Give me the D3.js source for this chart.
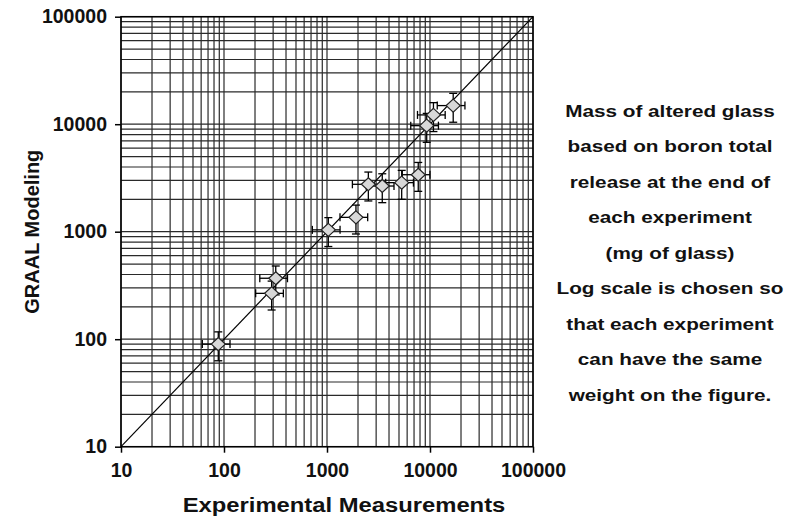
<!DOCTYPE html>
<html>
<head>
<meta charset="utf-8">
<script src="https://cdn.jsdelivr.net/npm/d3@7"></script>
<style>
  body { margin: 0; background: #fff; }
  svg { font-family: "Liberation Sans", Arial, sans-serif; font-weight: bold; }
</style>
</head>
<body>
<div id="chart"></div>
<script>
// experimental (x) vs GRAAL modelled (y) altered glass mass, mg
var experimental = [88, 290, 318, 1030, 1910, 2520, 3440, 5310, 7690, 9290, 10800, 16800];
var modeled = [90, 267, 369, 1040, 1360, 2760, 2660, 2860, 3390, 9690, 12200, 14900];
var relError = 0.3; // +/- 30% on both axes
var tickValues = [10, 100, 1000, 10000, 100000];
var noteLines = [
    "Mass of altered glass",
    "based on boron total",
    "release at the end of",
    "each experiment",
    "(mg of glass)",
    "Log scale is chosen so",
    "that each experiment",
    "can have the same",
    "weight on the figure."
];

var svgWidth = 793, svgHeight = 521;
var margin = { top: 16.7, left: 121, right: 260, bottom: 74.3 };
var chartWidth = svgWidth - margin.left - margin.right;   // 412
var chartHeight = svgHeight - margin.top - margin.bottom; // 430

var svg = d3.select("#chart").append("svg")
    .attr("width", svgWidth)
    .attr("height", svgHeight);

var chartGroup = svg.append("g")
    .attr("transform", `translate(${margin.left}, ${margin.top})`);

var xScale = d3.scaleLog().domain([10, 100000]).range([0, chartWidth]);
var yScale = d3.scaleLog().domain([10, 100000]).range([chartHeight, 0]);

// gridlines at every 1..9 of each decade
var gridValues = [];
for (var p = 1; p < 5; p++) {
    for (var m = 1; m < 10; m++) {
        gridValues.push(m * Math.pow(10, p));
    }
}
gridValues.push(100000);

chartGroup.append("g").selectAll("line")
    .data(gridValues)
    .enter().append("line")
    .attr("x1", d => xScale(d)).attr("x2", d => xScale(d))
    .attr("y1", 0).attr("y2", chartHeight)
    .attr("stroke", "#2a2a2a")
    .attr("stroke-width", 1.2);

chartGroup.append("g").selectAll("line")
    .data(gridValues)
    .enter().append("line")
    .attr("y1", d => yScale(d)).attr("y2", d => yScale(d))
    .attr("x1", 0).attr("x2", chartWidth)
    .attr("stroke", "#2a2a2a")
    .attr("stroke-width", 1.2);

// frame
chartGroup.append("rect")
    .attr("width", chartWidth).attr("height", chartHeight)
    .attr("fill", "none").attr("stroke", "#000").attr("stroke-width", 1.5);

// axes
var xAxis = d3.axisBottom(xScale).tickValues(tickValues).tickFormat(d3.format("d")).tickSize(6).tickPadding(6);
var yAxis = d3.axisLeft(yScale).tickValues(tickValues).tickFormat(d3.format("d")).tickSize(6).tickPadding(8);

var xg = chartGroup.append("g")
    .attr("transform", `translate(0, ${chartHeight})`)
    .call(xAxis);
var yg = chartGroup.append("g").call(yAxis);

[xg, yg].forEach(function(g) {
    g.select(".domain").remove();
    g.selectAll("line").attr("stroke", "#000").attr("stroke-width", 1.5);
    g.selectAll("text")
        .attr("font-size", 19.5)
        .attr("font-weight", "bold")
        .attr("font-family", "Liberation Sans, Arial, sans-serif")
        .attr("fill", "#111");
});
xg.selectAll("text").attr("dy", "0.95em");

// 1:1 line
chartGroup.append("line")
    .attr("x1", xScale(10)).attr("y1", yScale(10))
    .attr("x2", xScale(100000)).attr("y2", yScale(100000))
    .attr("stroke", "#000").attr("stroke-width", 1.2);

// error bars
var points = experimental.map((d, i) => ({ x: d, y: modeled[i] }));
var cap = 4;
var errGroup = chartGroup.append("g").attr("stroke", "#000").attr("stroke-width", 1.3);

points.forEach(function(d) {
    var cx = xScale(d.x), cy = yScale(d.y);
    var xl = xScale(d.x * (1 - relError)), xr = xScale(d.x * (1 + relError));
    var yt = yScale(d.y * (1 + relError)), yb = yScale(d.y * (1 - relError));
    errGroup.append("line").attr("x1", xl).attr("x2", xr).attr("y1", cy).attr("y2", cy);
    errGroup.append("line").attr("x1", xl).attr("x2", xl).attr("y1", cy - cap).attr("y2", cy + cap);
    errGroup.append("line").attr("x1", xr).attr("x2", xr).attr("y1", cy - cap).attr("y2", cy + cap);
    errGroup.append("line").attr("x1", cx).attr("x2", cx).attr("y1", yt).attr("y2", yb);
    errGroup.append("line").attr("x1", cx - cap).attr("x2", cx + cap).attr("y1", yt).attr("y2", yt);
    errGroup.append("line").attr("x1", cx - cap).attr("x2", cx + cap).attr("y1", yb).attr("y2", yb);
});

// diamond markers
chartGroup.selectAll(".pt")
    .data(points)
    .enter().append("path")
    .attr("class", "pt")
    .attr("d", "M0,-6.5L7,0L0,6.5L-7,0Z")
    .attr("transform", d => `translate(${xScale(d.x)}, ${yScale(d.y)})`)
    .attr("fill", "#d8d8d8")
    .attr("stroke", "#222")
    .attr("stroke-width", 1.2);

// axis titles (the original type is set a bit wide)
svg.append("g")
    .attr("transform", "translate(344, 512) scale(1.19, 1)")
    .append("text")
    .attr("text-anchor", "middle")
    .attr("font-size", 20)
    .attr("fill", "#111")
    .text("Experimental Measurements");

svg.append("text")
    .attr("transform", `translate(39, ${margin.top + chartHeight / 2}) rotate(-90)`)
    .attr("text-anchor", "middle")
    .attr("font-size", 20)
    .attr("fill", "#111")
    .text("GRAAL Modeling");

// side note
svg.append("g")
    .attr("transform", "translate(670, 0) scale(1.22, 1)")
    .selectAll("text")
    .data(noteLines)
    .enter().append("text")
    .attr("x", 0)
    .attr("y", (d, i) => 117 + i * 35.5)
    .attr("text-anchor", "middle")
    .attr("font-size", 17)
    .attr("fill", "#111")
    .text(d => d);
</script>
</body>
</html>
